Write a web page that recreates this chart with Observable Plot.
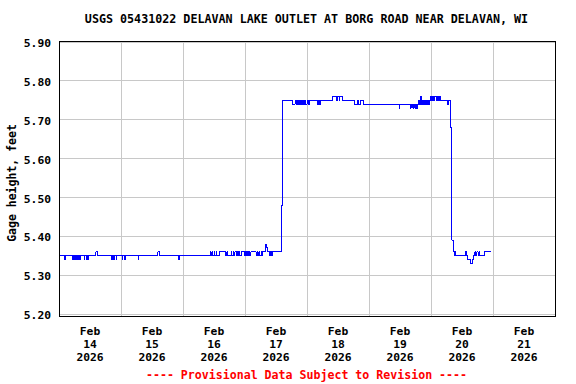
<!DOCTYPE html>
<html>
<head>
<meta charset="utf-8">
<script src="https://cdn.jsdelivr.net/npm/d3@7"></script>
<script src="https://cdn.jsdelivr.net/npm/@observablehq/plot@0.6"></script>
<style>
  html, body { margin: 0; padding: 0; background: #fff; }
  #wrap { position: relative; width: 576px; height: 384px; overflow: hidden; font-family: "DejaVu Sans Mono", monospace; font-weight: bold; }
  .title { position: absolute; z-index: 2; left: 58.5px; width: 496px; top: 12px; line-height: 14px; font-size: 11.7px; text-align: center; color: #000; white-space: nowrap; }
  .foot { position: absolute; z-index: 2; left: 58.5px; width: 496px; top: 368px; line-height: 14px; font-size: 11.6px; text-align: center; color: #ff0000; white-space: nowrap; }
  .ylab { position: absolute; z-index: 2; left: 12px; top: 183px; font-size: 11.5px; line-height: 14px; color: #000; white-space: nowrap; transform: translate(-50%, -50%) rotate(-90deg); }
  #chart { position: absolute; z-index: 1; left: 0; top: 0; }
  #chart svg path, #chart svg line, #chart svg rect { shape-rendering: crispEdges; }
</style>
</head>
<body>
<div id="wrap">
  <div id="chart"></div>
  <div class="title">USGS 05431022 DELAVAN LAKE OUTLET AT BORG ROAD NEAR DELAVAN, WI</div>
  <div class="ylab">Gage height, feet</div>
  <div class="foot">---- Provisional Data Subject to Revision ----</div>
</div>
<script>
// Hours since 2026-02-14 00:00 at which the gage height changes (step changes)
const hours = [
  0, 2.3, 2.55, 5.4, 5.65, 5.9, 6.15, 6.5, 6.75, 7.2, 7.45, 8.0, 8.25, 9.8, 10.05, 10.5, 10.75, 11.1, 11.35,
  14.3, 14.8, 20.5, 20.75, 21.2, 21.45, 22.2, 22.45, 24.5, 24.75, 25.3, 25.55, 30.7, 30.95, 38.3, 38.8, 46.3, 46.55,
  58.6, 58.85, 59.3, 59.55, 60.0, 60.25, 60.8, 61.05, 62.1, 64.6, 65.0, 65.25, 66.6, 66.85, 67.4, 67.65, 68.1, 68.6,
  69.1, 69.35, 69.7, 69.95, 70.5, 71.7, 72.2, 72.45, 72.8, 73.05, 73.5, 73.75, 74.3, 76.3, 76.8, 77.05, 77.4, 77.65,
  78.2, 78.45, 78.9, 80.1, 80.35, 80.8, 81.6, 81.85, 82.4, 82.65, 86.1, 86.6,
  90.5, 91.4, 91.7, 92.0, 92.3, 92.7, 93.0, 93.5, 93.8, 94.3, 94.6, 95.1, 95.4, 96.0, 96.4, 97.0,
  99.9, 100.4, 100.7, 101.2, 106.0, 107.5, 107.8, 108.4, 108.7, 109.8,
  114.4, 115.6, 116.0, 116.6, 117.8, 131.7, 131.95,
  136.0, 136.3, 136.9, 137.2, 137.7, 138.0, 138.4, 138.9, 139.2, 139.5, 139.9, 140.15, 140.5, 140.8, 141.1, 141.5,
  141.8, 142.2, 142.5, 143.0, 143.3, 143.7, 144.2, 144.6, 145.0, 145.5, 146.0, 146.4, 146.8, 147.3, 147.6,
  150.2, 150.7, 151.7, 152.1, 152.6, 153.0, 153.3, 153.55, 157.2, 157.7, 158.0, 159.2, 159.9, 160.3,
  161.0, 161.25, 161.8, 162.2, 162.6, 162.85, 164.6, 167.0
];
const gageFeet = [
  5.35, 5.34, 5.35, 5.34, 5.35, 5.34, 5.35, 5.34, 5.35, 5.34, 5.35, 5.34, 5.35, 5.34, 5.35, 5.34, 5.35, 5.34, 5.35,
  5.36, 5.35, 5.34, 5.35, 5.34, 5.35, 5.34, 5.35, 5.34, 5.35, 5.34, 5.35, 5.34, 5.35, 5.36, 5.35, 5.34, 5.35,
  5.36, 5.35, 5.36, 5.35, 5.36, 5.35, 5.36, 5.35, 5.36, 5.35, 5.36, 5.35, 5.36, 5.35, 5.36, 5.35, 5.36, 5.35,
  5.36, 5.35, 5.36, 5.35, 5.36, 5.35, 5.36, 5.35, 5.36, 5.35, 5.36, 5.35, 5.36, 5.35, 5.36, 5.35, 5.36, 5.35,
  5.36, 5.35, 5.36, 5.38, 5.37, 5.36, 5.35, 5.36, 5.35, 5.36, 5.48, 5.75,
  5.74, 5.75, 5.74, 5.75, 5.74, 5.75, 5.74, 5.75, 5.74, 5.75, 5.74, 5.75, 5.74, 5.75, 5.74, 5.75,
  5.74, 5.75, 5.74, 5.75, 5.76, 5.75, 5.76, 5.75, 5.76, 5.75,
  5.74, 5.75, 5.74, 5.75, 5.74, 5.73, 5.74,
  5.73, 5.74, 5.73, 5.74, 5.73, 5.74, 5.73, 5.74, 5.75, 5.74, 5.76, 5.74, 5.75, 5.74, 5.75, 5.74,
  5.75, 5.74, 5.75, 5.74, 5.75, 5.76, 5.75, 5.76, 5.75, 5.76, 5.75, 5.76, 5.75, 5.76, 5.75,
  5.74, 5.75, 5.68, 5.39, 5.36, 5.35, 5.36, 5.35, 5.36, 5.35, 5.34, 5.33, 5.34, 5.35,
  5.36, 5.35, 5.36, 5.35, 5.36, 5.35, 5.36, 5.36
];
const yTicks = [5.2, 5.3, 5.4, 5.5, 5.6, 5.7, 5.8, 5.9];
const tickMonths = ["Feb", "Feb", "Feb", "Feb", "Feb", "Feb", "Feb", "Feb"];
const tickDays = ["14", "15", "16", "17", "18", "19", "20", "21"];
const tickYears = ["2026", "2026", "2026", "2026", "2026", "2026", "2026", "2026"];

const t0 = Date.UTC(2026, 1, 14);
const H = 3600e3;
const data = hours.map((h, i) => ({date: new Date(t0 + h * H), value: gageFeet[i]}));
const noonTicks = tickDays.map(d => new Date(Date.UTC(2026, 1, +d, 12)));
const midnights = d3.utcDay.range(new Date(t0), new Date(Date.UTC(2026, 1, 22, 1)));

const chart = Plot.plot({
  width: 576,
  height: 384,
  marginLeft: 58.5,
  marginRight: 21.5,
  marginTop: 40.5,
  marginBottom: 68.5,
  style: {fontFamily: "DejaVu Sans Mono, monospace", fontSize: "11.3px", fontWeight: "bold", background: "transparent", color: "#000"},
  x: {type: "utc", domain: [new Date(t0), new Date(Date.UTC(2026, 1, 22))]},
  y: {domain: [5.2, 5.9], range: [313.5, 41.5]},
  marks: [
    Plot.ruleY(yTicks, {stroke: "#c8c8c8", strokeWidth: 1}),
    Plot.ruleX(midnights, {stroke: "#c8c8c8", strokeWidth: 1}),
    Plot.line(data, {x: "date", y: "value", curve: "step-after", stroke: "#0000ff", strokeWidth: 1}),
    Plot.frame({stroke: "#000", strokeWidth: 1}),
    Plot.axisY({ticks: yTicks, tickFormat: d3.format(".2f"), tickSize: 0, tickPadding: 8, dy: 1.5, label: null, fill: "#000"}),
    Plot.axisX({ticks: noonTicks, tickFormat: (d, i) => `${tickMonths[i]}\n${tickDays[i]}\n${tickYears[i]}`, tickSize: 0, tickPadding: 10, lineHeight: 1.15, label: null, fill: "#000"})
  ]
});
document.getElementById("chart").appendChild(chart);
</script>
</body>
</html>
